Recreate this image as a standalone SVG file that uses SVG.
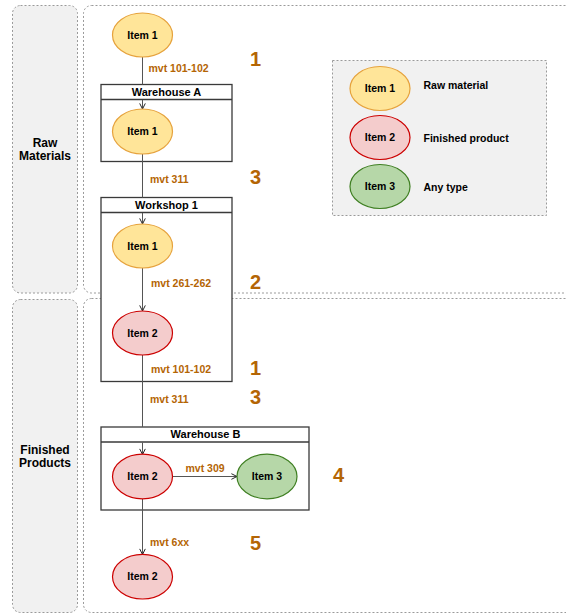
<svg xmlns="http://www.w3.org/2000/svg" width="566" height="614" viewBox="0 0 566 614">
<defs>
<style>
.lane{fill:#f1f1f1;stroke:#9a9a9a;stroke-width:1;stroke-dasharray:2 2}
.area{fill:none;stroke:#9a9a9a;stroke-width:1;stroke-dasharray:2 2}
.box{fill:#ffffff;stroke:#3a3a3a;stroke-width:1.3}
.t{font-family:"Liberation Sans",Arial,sans-serif;font-weight:bold;font-size:10.5px;fill:#000}
.hdr{font-family:"Liberation Sans",Arial,sans-serif;font-weight:bold;font-size:11px;fill:#000}
.ln{font-family:"Liberation Sans",Arial,sans-serif;font-weight:bold;font-size:12px;fill:#000}
.mvt{font-family:"Liberation Sans",Arial,sans-serif;font-weight:bold;font-size:10.5px;fill:#b46504}
.num{font-family:"Liberation Sans",Arial,sans-serif;font-weight:bold;font-size:20px;fill:#b46504}
.i1{fill:#ffe599;stroke:#e6a23c;stroke-width:1.2}
.i2{fill:#f4cccc;stroke:#cc0000;stroke-width:1.2}
.i3{fill:#b6d7a8;stroke:#3f7f22;stroke-width:1.2}
.c{fill:none;stroke:#555;stroke-width:1}
</style>
<marker id="arr" viewBox="0 0 10 10" refX="9" refY="5" markerWidth="7" markerHeight="7" orient="auto" markerUnits="userSpaceOnUse">
<path d="M1 1 L9 5 L1 9" fill="none" stroke="#222" stroke-width="1.4"/>
</marker>
</defs>

<g id="lane-raw">
<rect class="lane" x="12.5" y="5.5" width="65" height="287.5" rx="8"/>
<rect class="area" x="83.5" y="5.5" width="500" height="287.5" rx="8"/>
<text class="ln" x="45" y="147" text-anchor="middle">Raw</text>
<text class="ln" x="45" y="160" text-anchor="middle">Materials</text>
</g>
<g id="lane-finished">
<rect class="lane" x="12.5" y="299.5" width="65" height="313" rx="8"/>
<rect class="area" x="83.5" y="298.5" width="500" height="314" rx="8"/>
<text class="ln" x="45" y="454" text-anchor="middle">Finished</text>
<text class="ln" x="45" y="467" text-anchor="middle">Products</text>
</g>

<g id="legend">
<rect x="332.5" y="60.5" width="214" height="155" fill="#f1f1f1" stroke="#9a9a9a" stroke-dasharray="2 2"/>
<ellipse class="i1" cx="380" cy="88.5" rx="30" ry="22"/>
<text class="t" x="380" y="92.2" text-anchor="middle">Item 1</text>
<ellipse class="i2" cx="380" cy="137.5" rx="30" ry="22"/>
<text class="t" x="380" y="141.2" text-anchor="middle">Item 2</text>
<ellipse class="i3" cx="380" cy="186.5" rx="30" ry="22"/>
<text class="t" x="380" y="190.2" text-anchor="middle">Item 3</text>
<text class="t" x="423.5" y="89">Raw material</text>
<text class="t" x="423.5" y="141.5">Finished product</text>
<text class="t" x="423.5" y="190.5">Any type</text>
</g>

<g id="warehouse-a">
<rect class="box" x="101" y="84.5" width="131" height="77"/>
<line x1="101" y1="99.5" x2="232" y2="99.5" stroke="#3a3a3a" stroke-width="1.3"/>
<text class="hdr" x="166.5" y="95.7" text-anchor="middle">Warehouse A</text>
</g>
<g id="workshop-1">
<rect class="box" x="101" y="197.5" width="131" height="184"/>
<line x1="101" y1="212.5" x2="232" y2="212.5" stroke="#3a3a3a" stroke-width="1.3"/>
<text class="hdr" x="166.5" y="208.7" text-anchor="middle">Workshop 1</text>
</g>
<g id="warehouse-b">
<rect class="box" x="101" y="427" width="208" height="83"/>
<line x1="101" y1="442" x2="309" y2="442" stroke="#3a3a3a" stroke-width="1.3"/>
<text class="hdr" x="205.5" y="438.2" text-anchor="middle">Warehouse B</text>
</g>

<g id="connectors">
<path class="c" d="M142.5 57 V84.5 M142.5 100 V109" marker-end="url(#arr)"/>
<path class="c" d="M142.5 154 V197.5 M142.5 213 V224" marker-end="url(#arr)"/>
<path class="c" d="M142.5 268 V311" marker-end="url(#arr)"/>
<path class="c" d="M142.5 355 V427 M142.5 442.5 V454.5" marker-end="url(#arr)"/>
<path class="c" d="M172.5 476.5 H237" marker-end="url(#arr)"/>
<path class="c" d="M142.5 499 V554.5" marker-end="url(#arr)"/>
</g>

<g id="item1-top">
<ellipse class="i1" cx="142.5" cy="35" rx="30" ry="22"/>
<text class="t" x="142.5" y="38.7" text-anchor="middle">Item 1</text>
</g>
<g id="item1-wha">
<ellipse class="i1" cx="142.5" cy="131.5" rx="30" ry="22.5"/>
<text class="t" x="142.5" y="135.2" text-anchor="middle">Item 1</text>
</g>
<g id="item1-ws">
<ellipse class="i1" cx="142.5" cy="246" rx="30" ry="22"/>
<text class="t" x="142.5" y="249.7" text-anchor="middle">Item 1</text>
</g>
<g id="item2-ws">
<ellipse class="i2" cx="142.5" cy="333" rx="30" ry="22"/>
<text class="t" x="142.5" y="336.7" text-anchor="middle">Item 2</text>
</g>
<g id="item2-whb">
<ellipse class="i2" cx="142.5" cy="476.5" rx="30" ry="22.3"/>
<text class="t" x="142.5" y="480.2" text-anchor="middle">Item 2</text>
</g>
<g id="item3-whb">
<ellipse class="i3" cx="267" cy="476.5" rx="30" ry="22.3"/>
<text class="t" x="267" y="480.2" text-anchor="middle">Item 3</text>
</g>
<g id="item2-final">
<ellipse class="i2" cx="142.5" cy="576.7" rx="30" ry="22.3"/>
<text class="t" x="142.5" y="580.4" text-anchor="middle">Item 2</text>
</g>

<g id="labels">
<text class="mvt" x="148.5" y="71.5">mvt 101-102</text>
<text class="mvt" x="150" y="183">mvt 311</text>
<text class="mvt" x="151" y="287">mvt 261-262</text>
<text class="mvt" x="151" y="373">mvt 101-102</text>
<text class="mvt" x="150" y="403">mvt 311</text>
<text class="mvt" x="185.5" y="472">mvt 309</text>
<text class="mvt" x="150" y="546">mvt 6xx</text>
<text class="num" x="255.5" y="65.7" text-anchor="middle">1</text>
<text class="num" x="255.5" y="184.3" text-anchor="middle">3</text>
<text class="num" x="255.5" y="288.5" text-anchor="middle">2</text>
<text class="num" x="255.5" y="375" text-anchor="middle">1</text>
<text class="num" x="255.5" y="404.3" text-anchor="middle">3</text>
<text class="num" x="338.5" y="481.5" text-anchor="middle">4</text>
<text class="num" x="255.5" y="550" text-anchor="middle">5</text>
</g>
</svg>
